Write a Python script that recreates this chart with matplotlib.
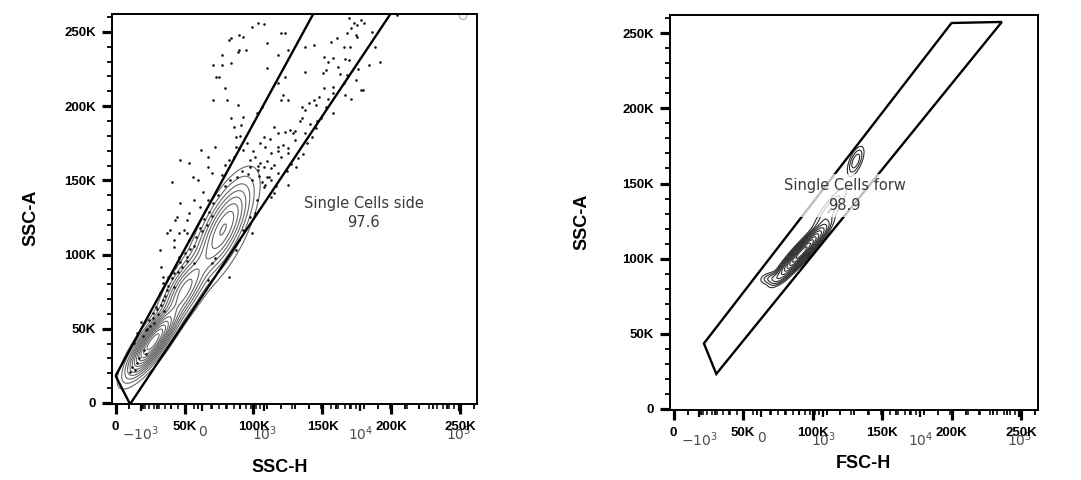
import numpy as np
import matplotlib
matplotlib.use("Agg")
import matplotlib.pyplot as plt
from matplotlib.patches import Polygon

# all axis values are in thousands (K)
lin_ticks = [0, 50, 100, 150, 200, 250]
lin_labels = ["0", "50K", "100K", "150K", "200K", "250K"]
biex_ticks = [-1e3, 0, 1e3, 1e4, 1e5]
biex_labels = [r"$-10^3$", "0", r"$10^3$", r"$10^4$", r"$10^5$"]
biex_minor = [-900, -800, -700, -600, -500, -400, -300, -200, -100,
              100, 200, 300, 400, 500, 600, 700, 800, 900,
              2e3, 3e3, 4e3, 5e3, 6e3, 7e3, 8e3, 9e3,
              2e4, 3e4, 4e4, 5e4, 6e4, 7e4, 8e4, 9e4, 2e5]

# gates (x, y) in K
side_gate = [(0, 18.3), (10.5, -0.8), (226.5, 300), (165.6, 300)]
forw_gate = [(21.8, 43.6), (199.9, 256.8), (236.1, 257.5), (30.7, 23.3)]

side_label = ("Single Cells side", "97.6", 180, 128)
forw_label = ("Single Cells forw", "98.9", 123, 142)

# contour populations: center x, center y, angle (deg), sd long, sd short, weight
side_pops = [
    (27, 41, 52, 14, 4.2, 1.00),
    (50, 76, 58, 14, 5.5, 0.38),
    (78, 117, 62, 19, 6.8, 0.45),
]
forw_pops = [
    (92, 104, 45, 11, 2.2, 1.00),
    (71, 87, 8, 5, 2.3, 0.06),
    (112, 132, 52, 12, 3.0, 0.05),
    (131, 165, 65, 6, 2.5, 0.07),
]
side_levels = [0.02, 0.05, 0.09, 0.14, 0.2, 0.27, 0.35, 0.44, 0.54, 0.65, 0.77, 0.9]
forw_levels = [0.015, 0.03, 0.05, 0.08, 0.13, 0.2, 0.3, 0.42, 0.56, 0.72, 0.88]

# events outside the contour levels (SSC-H, SSC-A) in K
side_dots = [
    (103.6, 256.3), (107.4, 255.4), (98.6, 253.6), (169, 259.2), (172.8, 256.3),
    (175.3, 254.8), (170.8, 252.5), (180.4, 255.9), (167.8, 249.1), (204.3, 261.5),
    (83.5, 245.8), (82.3, 244.7), (89.8, 248), (92.3, 246.4), (109.9, 242.4),
    (117.5, 234.5), (125, 237.9), (120, 249.1), (123, 249.6), (89.8, 237.9),
    (88.5, 236.8), (94.8, 237.9), (77.2, 234.5), (71, 227.8), (77.2, 227.8),
    (83.5, 228.9), (74.7, 219.9), (72.7, 219.5), (156.5, 243.5), (160.3, 245.8),
    (165.3, 240.2), (151.4, 233.4), (154, 230.1), (157.7, 232.3), (143.9, 241.3),
    (137.6, 240.2), (161.5, 226.7), (152.7, 224.4), (150.2, 222.2), (191.7, 230.1),
    (169, 231.2), (175.3, 246.9), (79.7, 212.1), (81, 204.2), (71, 204.2),
    (88.5, 200.9), (109.9, 225.6), (117.5, 215.5), (125, 204.2), (122.5, 219.9),
    (137.6, 223.3), (151.4, 212.1), (147.7, 206.5), (143.9, 204.2), (157.7, 213.2),
    (165.3, 215.5), (167.8, 221.1), (177.9, 211), (166.5, 207.6), (157.7, 195.2),
    (174.1, 217.7), (137.6, 197.5), (140.1, 202), (135.1, 191.9), (152.7, 199.7),
    (145.2, 200.9), (179.1, 211),
    (102.4, 195.2), (106.2, 199.7), (92.3, 193), (91.1, 187.4), (120, 204.2),
    (121.3, 207.6), (115, 186.3), (117.5, 181.8), (122.5, 182.9), (126.3, 184),
    (128.8, 181.8), (135.1, 199.7), (107.4, 179.5), (104.9, 175), (108.7, 172.8),
    (117.5, 172.8), (121.3, 173.9), (112.4, 168.3), (101.1, 166), (97.4, 163.8),
    (92.3, 170.5), (87.3, 172.8), (87.3, 179.5), (97.4, 159.3), (103.6, 157.1),
    (107.4, 159.3), (115, 160.4), (117.5, 154.8), (109.9, 152.6), (120, 166),
    (125, 168.3), (130, 177.3), (137.6, 181.8), (142.6, 179.5), (132.6, 164.9),
    (125, 147), (115, 141.3), (112.4, 139.1),
    (62.1, 170.5), (47, 163.8), (40.7, 149.2), (53.3, 161.5), (55.8, 152.6),
    (59.6, 150.3), (67.2, 159.3), (69.7, 154.8), (79.7, 160.4), (77.2, 153.7),
    (82.3, 163.8), (86, 166), (89.8, 171.6), (72.2, 172.8), (67.2, 166),
    (47, 134.6), (44.5, 125.6), (39.5, 116.6), (37, 114.4), (42, 109.9),
    (45.8, 114.4), (52, 123.4), (53.3, 127.9), (57.1, 136.8), (60.9, 132.3),
    (63.4, 142.5), (67.2, 136.8), (52, 98.7), (45.8, 98.7), (48.3, 91.9),
    (43.3, 91.9), (42, 87.4), (38.2, 85.2), (34.5, 80.7), (37, 76.2),
    (31.9, 74), (34.5, 69.5), (29.4, 64.9), (26.9, 60.5), (28.2, 53.7),
    (24.4, 56), (21.9, 49.3), (18.1, 54.9), (15.6, 47), (13.1, 40.3),
    (20.6, 35.8), (11.8, 24.5), (14.3, 22.3), (10.5, 21.2), (15.6, 26.8),
    (31.9, 103.2), (33.2, 91.9), (34.5, 85.2), (52, 114.4), (49.5, 116.6),
    (43.3, 123.4), (42, 105.4), (53.3, 109.9), (57.1, 94.2),
    (67.2, 82.9), (69.7, 94.2), (72.2, 97.5), (82.3, 85.2), (87.3, 103.2),
    (89.8, 109.9), (92.3, 116.6), (97.4, 125.6), (98.6, 114.4), (101.1, 127.9),
    (102.4, 136.8), (107.4, 145.8), (106.2, 149.2), (111.2, 152.6), (112.4, 158.2),
    (20, 45), (23, 50), (27, 57), (30, 63), (33, 66), (36, 72), (38, 79),
    (41, 84), (45, 88), (47, 95), (50, 101), (54, 104), (58, 112), (61, 118),
    (64, 124), (68, 129), (71, 135), (74, 140), (79, 146), (83, 150), (88, 152),
    (92, 156), (96, 154), (99, 150), (104, 153), (108, 147), (113, 150),
    (116, 146), (124, 156), (127, 161), (131, 159), (136, 168), (139, 175),
    (145, 185), (149, 192), (154, 205), (158, 209), (163, 222), (166, 232),
    (170, 240), (174, 248), (178, 258), (186, 250), (188, 240), (184, 228),
    (176, 225), (171, 205), (146, 190), (141, 188), (112, 178), (118, 170),
    (105, 162), (100, 170), (95, 175), (90, 180), (86, 186), (84, 192),
    (25, 52), (31, 60), (17, 30), (22, 33), (35, 62), (42, 78), (52, 96),
    (57, 106), (63, 116), (66, 120), (70, 126), (103, 160), (110, 163),
    (125, 172), (130, 183), (134, 190),
]

XLIM = (-2.6, 262.1)
YLIM = (-0.7, 262.1)


def to_biex(x):
    """ linear K position -> biexponential value (overlay scale) """
    return 500 * np.sinh((np.asarray(x, dtype=float) - 63) / 31)


def from_biex(v):
    """ biexponential value -> linear K position """
    return 63 + 31 * np.arcsinh(np.asarray(v, dtype=float) / 500)


def density(pops, xx, yy):
    """ Sum of the elongated populations on a grid. """
    z = np.zeros_like(xx)
    for cx, cy, ang, su, sv, w in pops:
        t = np.radians(ang)
        dx, dy = xx - cx, yy - cy
        u = dx * np.cos(t) + dy * np.sin(t)
        v = -dx * np.sin(t) + dy * np.cos(t)
        z += w * np.exp(-0.5 * (u ** 2 / su ** 2 + v ** 2 / sv ** 2))
    return z


def configure_axes(ax, x_label, y_label, xlabel_x, xlabel_y, ylabel_x):
    ax.set_xlim(*XLIM)
    ax.set_ylim(*YLIM)
    for s in ax.spines.values():
        s.set_linewidth(1.4)
    ax.set_xticks(lin_ticks)
    ax.set_xticklabels(lin_labels, fontsize=9.5, fontweight="bold", family="Liberation Sans")
    ax.set_yticks(lin_ticks)
    ax.set_yticklabels(lin_labels, fontsize=9.5, fontweight="bold", family="Liberation Sans")
    ax.set_xticks(np.arange(10, 262, 10), minor=True)
    ax.set_yticks(np.arange(10, 262, 10), minor=True)
    ax.tick_params(which="major", direction="out", length=7.5, width=2.3, pad=4)
    ax.tick_params(which="minor", direction="out", length=3.5, width=1.3)
    ax.tick_params(axis="x", which="major", pad=5)

    sec = ax.secondary_xaxis("bottom", functions=(to_biex, from_biex))
    sec.set_xticks(biex_ticks)
    sec.set_xticklabels(biex_labels, fontsize=10, color="#4d4d4d")
    sec.set_xticks(biex_minor, minor=True)
    sec.tick_params(which="major", direction="out", length=5, width=1.6, pad=10)
    sec.tick_params(which="minor", direction="out", length=3.5, width=1.1)
    sec.spines["bottom"].set_visible(False)

    ax.set_xlabel(x_label, fontsize=13, fontweight="bold", family="Liberation Sans")
    ax.set_ylabel(y_label, fontsize=13, fontweight="bold", family="Liberation Sans")
    ax.xaxis.set_label_coords(xlabel_x, xlabel_y)
    ax.yaxis.set_label_coords(ylabel_x, 0.477)


def add_gate(ax, gate, label):
    ax.add_patch(Polygon(gate, closed=True, fill=False, edgecolor="black",
                         linewidth=1.7, zorder=3))
    name, pct, tx, ty = label
    ax.text(tx, ty, name + "\n" + pct, ha="center", va="center", fontsize=10.5,
            color="#3a3a3a", linespacing=1.35, zorder=5,
            bbox=dict(facecolor="white", edgecolor="none", alpha=0.75, pad=3))


fig = plt.figure(figsize=(10.81, 4.8), dpi=100)
ax1 = fig.add_axes([0.1036, 0.1583, 0.3377, 0.8125])
ax2 = fig.add_axes([0.6198, 0.1458, 0.3404, 0.8229])

gx, gy = np.meshgrid(np.linspace(-3, 262, 500), np.linspace(-1, 262, 500))

# left: SSC-H vs SSC-A
z1 = density(side_pops, gx, gy)
ax1.contour(gx, gy, z1, levels=side_levels, colors="#666666", linewidths=0.8)
dots = np.array(side_dots)
ax1.scatter(dots[:, 0], dots[:, 1], s=3.5, color="#111111", linewidths=0, zorder=2)
ax1.scatter([252], [261], s=30, facecolors="none", edgecolors="#aaaaaa",
            linewidths=0.8, clip_on=True)
add_gate(ax1, side_gate, side_label)
configure_axes(ax1, "SSC-H", "SSC-A", 0.46, -0.14, -0.2)

# right: FSC-H vs SSC-A
z2 = density(forw_pops, gx, gy)
ax2.contour(gx, gy, z2, levels=forw_levels, colors="#2e2e2e", linewidths=0.8)
add_gate(ax2, forw_gate, forw_label)
configure_axes(ax2, "FSC-H", "SSC-A", 0.525, -0.115, -0.215)

fig.savefig("out.png", dpi=100)
